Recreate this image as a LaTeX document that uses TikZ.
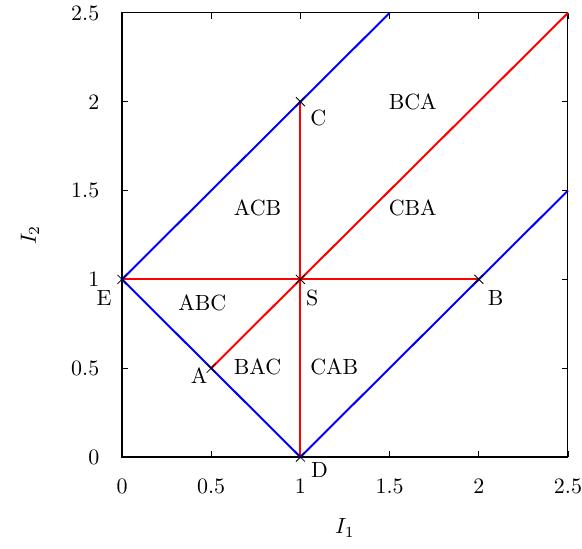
\documentclass[tikz,border=0pt]{standalone}
\usetikzlibrary{shapes.misc}

\tikzset{
  bluel/.style={blue, line width=0.9pt},
  redl/.style={red, line width=0.9pt},
  ptx/.style={cross out, draw=black, line width=0.4pt, minimum size=0.13cm, inner sep=0pt},
  lbl/.style={inner sep=0pt},
}

\begin{document}
\begin{tikzpicture}[x=2.854cm, y=2.842cm]
    \useasboundingbox (-1.952cm,-1.456cm) rectangle (7.36cm,7.312cm);

    % Punkty
    \coordinate (E) at (0, 1);
    \coordinate (A) at (0.5, 0.5);
    \coordinate (S) at (1, 1);
    \coordinate (D) at (1, 0);
    \coordinate (C) at (1, 2);
    \coordinate (B) at (2, 1);
    \coordinate (T1) at (1.5, 2.5);
    \coordinate (T2) at (2.5, 2.5);
    \coordinate (R1) at (2.5, 1.5);

    % Ramka i podziałki
    \draw[line width=0.5pt] (0,0) rectangle (2.5,2.5);
    \foreach \v in {0,0.5,1,1.5,2,2.5} {
        \draw[line width=0.4pt] (\v,0) -- ++(0,0.1cm) (\v,2.5) -- ++(0,-0.1cm);
        \draw[line width=0.4pt] (0,\v) -- ++(0.1cm,0) (2.5,\v) -- ++(-0.1cm,0);
        \node[anchor=center] at ([yshift=-0.464cm]\v,0) {\v};
        \node[anchor=east] at ([xshift=-0.24cm]0,\v) {\v};
    }
    \node (xl) at ([yshift=-1.136cm]1.25,0) {$I_1$};
    \node[rotate=90] (yl) at ([xshift=-1.472cm]0,1.25) {$I_2$};

    % Czerwone krawędzie
    \draw[redl] (E) -- (B);
    \draw[redl] (D) -- (C);
    \draw[redl] (A) -- (T2);

    % Niebieskie krawędzie
    \draw[bluel] (T1) -- (E) -- (D) -- (R1);

    % Krzyżyki
    \foreach \p in {E,A,S,D,C,B} \node[ptx] at (\p) {};

    % Etykiety punktów
    \node[lbl] (lE) at (-0.10, 0.893) {E};
    \node[lbl] (lC) at (1.10, 1.91) {C};
    \node[lbl] (lS) at (1.067, 0.893) {S};
    \node[lbl] (lB) at (2.095, 0.893) {B};
    \node[lbl] (lA) at (0.432, 0.46) {A};
    \node[lbl] (lD) at (1.107, -0.073) {D};

    % Obszary
    \node[lbl] (abc) at (0.45, 0.87) {ABC};
    \node[lbl] (acb) at (0.76, 1.40) {ACB};
    \node[lbl] (bca) at (1.63, 2.00) {BCA};
    \node[lbl] (cba) at (1.63, 1.40) {CBA};
    \node[lbl] (bac) at (0.76, 0.51) {BAC};
    \node[lbl] (cab) at (1.19, 0.51) {CAB};
\end{tikzpicture}
\end{document}
